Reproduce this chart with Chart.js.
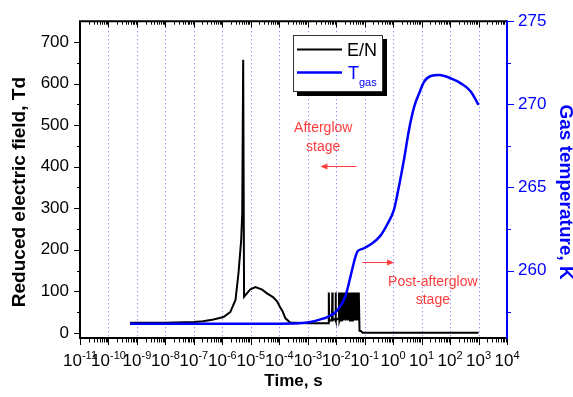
<!DOCTYPE html>
<html>
<head>
<meta charset="utf-8">
<script src="https://cdn.jsdelivr.net/npm/chart.js@4.4.0/dist/chart.umd.min.js"></script>
<style>
  html, body { margin: 0; padding: 0; background: #fff; }
  #wrap { width: 573px; height: 397px; }
</style>
</head>
<body>
<div id="wrap"><canvas id="chart"></canvas></div>
<script>
// E/N, Td
const enTime = [
  5.7e-10, 1e-8, 1e-7, 2.1e-7, 4.9e-7, 1.1e-6, 1.9e-6, 2.9e-6, 3.7e-6, 4.6e-6, 5.0e-6, 5.4e-6, 5.8e-6,
  9.7e-6, 1.45e-5, 2.5e-5, 3.7e-5, 6e-5, 8.5e-5, 1.05e-4, 1.3e-4, 1.65e-4, 2.4e-4, 1e-3, 5.3e-3,
  5.5e-3, 5.7e-3, 7.1e-3, 7.3e-3, 7.5e-3, 9.3e-3, 9.5e-3, 9.8e-3, 1.22e-2, 1.25e-2, 1.3e-2, 1.4e-2,
  1.45e-2, 1.52e-2, 1.58e-2, 1.65e-2, 1.72e-2, 1.8e-2, 1.88e-2, 1.96e-2, 2.05e-2, 2.14e-2, 2.24e-2, 2.34e-2,
  2.45e-2, 2.56e-2, 2.68e-2, 2.8e-2, 2.93e-2, 3.06e-2, 3.2e-2, 3.35e-2, 3.5e-2, 3.66e-2, 3.83e-2, 4.0e-2,
  4.2e-2, 4.4e-2, 4.6e-2, 4.8e-2, 5.0e-2, 5.25e-2, 5.5e-2, 5.75e-2, 6.0e-2, 6.15e-2, 6.3e-2,
  6.6e-2, 7.5e-2, 8.5e-2, 1e3
];
const enValues = [
  24, 24, 26, 28, 32, 38, 50, 79, 144, 224, 289, 657, 87,
  105, 110, 104, 95, 86, 75, 63, 52, 35, 25, 23, 23,
  97, 28, 32, 97, 30, 34, 97, 30, 35, 97, 30, 38,
  97, 30, 97, 32, 97, 30, 97, 33, 97, 30, 97, 32,
  97, 30, 97, 33, 97, 30, 97, 32, 97, 30, 97, 33,
  97, 30, 97, 32, 97, 30, 97, 32, 97, 30, 97,
  5, 4, 0.5, 0.5
];

// Gas temperature, K
const tTime = [
  5.7e-10, 1e-4, 5e-4, 1.26e-3, 2.8e-3, 4.9e-3, 1.1e-2, 2.1e-2, 3.2e-2, 4.2e-2, 4.8e-2, 5.6e-2,
  8.3e-2, 0.16, 0.36, 0.63, 1.07, 1.6, 2.4, 3.6, 5.5, 8.2, 12.3, 21, 42, 107, 240, 540, 1000
];
const tValues = [
  256.8, 256.8, 256.82, 256.9, 257.06, 257.2, 257.6, 258.45, 259.66, 260.5, 260.85, 261.15,
  261.3, 261.56, 262.1, 262.8, 263.66, 265.06, 266.66, 268.46, 269.86, 270.66, 271.36, 271.7, 271.76,
  271.56, 271.26, 270.76, 269.96
];

const decades = [1e-11, 1e-10, 1e-9, 1e-8, 1e-7, 1e-6, 1e-5, 1e-4, 1e-3, 1e-2, 1e-1, 1e0, 1e1, 1e2, 1e3, 1e4];
const decadeExp = ["-11", "-10", "-9", "-8", "-7", "-6", "-5", "-4", "-3", "-2", "-1", "0", "1", "2", "3", "4"];
const leftTicks = [0, 100, 200, 300, 400, 500, 600, 700];
const leftMinor = [50, 150, 250, 350, 450, 550, 650];
const rightTicks = [260, 265, 270, 275];
const rightMinor = [257.5, 262.5, 267.5, 272.5];
const xMinor = decades.slice(0, -1).flatMap(d => [2, 3, 4, 5, 6, 7, 8, 9].map(m => m * d));

const FONT = 'Arial, "Liberation Sans", sans-serif';
const RED = '#ff3b3b';
const BLUE = '#0000ff';

function arrow(ctx, x1, x2, y) {
  const dir = x2 > x1 ? 1 : -1;
  ctx.beginPath();
  ctx.moveTo(x1, y);
  ctx.lineTo(x2 - dir * 5, y);
  ctx.stroke();
  ctx.beginPath();
  ctx.moveTo(x2, y);
  ctx.lineTo(x2 - dir * 7, y - 3);
  ctx.lineTo(x2 - dir * 7, y + 3);
  ctx.closePath();
  ctx.fill();
}

function vTitle(ctx, text, cx, cy, angle, color) {
  ctx.save();
  ctx.translate(cx, cy);
  ctx.rotate(angle);
  ctx.font = 'bold 19px ' + FONT;
  ctx.fillStyle = color;
  ctx.textAlign = 'center';
  ctx.textBaseline = 'middle';
  ctx.fillText(text, 0, 0);
  ctx.restore();
}

const frame = {
  id: 'frame',
  beforeDatasetsDraw(chart) {
    const { ctx, chartArea: a, scales: { x } } = chart;
    ctx.save();
    ctx.strokeStyle = '#6a6aff';
    ctx.lineWidth = 1;
    ctx.setLineDash([1, 3]);
    decades.slice(1, -1).forEach(v => {
      const px = Math.round(x.getPixelForValue(v)) + 0.5;
      ctx.beginPath();
      ctx.moveTo(px, a.top + 2);
      ctx.lineTo(px, a.bottom);
      ctx.stroke();
    });
    ctx.restore();
  },
  afterDatasetsDraw(chart) {
    const { ctx, chartArea: a, scales: { x, y, y2 } } = chart;
    ctx.save();

    // x ticks, top (inward) and bottom (outward)
    ctx.strokeStyle = '#000';
    ctx.lineWidth = 1;
    const tick = (v, len) => {
      const px = Math.round(x.getPixelForValue(v)) + 0.5;
      ctx.beginPath();
      ctx.moveTo(px, a.top); ctx.lineTo(px, a.top + len);
      ctx.moveTo(px, a.bottom + 1); ctx.lineTo(px, a.bottom + 2 + len);
      ctx.stroke();
    };
    decades.forEach(v => tick(v, 6));
    xMinor.forEach(v => tick(v, 3.5));

    // left ticks
    leftTicks.forEach(v => {
      const py = Math.round(y.getPixelForValue(v)) + 0.5;
      ctx.beginPath(); ctx.moveTo(a.left - 6, py); ctx.lineTo(a.left, py); ctx.stroke();
    });
    leftMinor.forEach(v => {
      const py = Math.round(y.getPixelForValue(v)) + 0.5;
      ctx.beginPath(); ctx.moveTo(a.left - 3, py); ctx.lineTo(a.left, py); ctx.stroke();
    });

    // frame lines
    ctx.lineWidth = 2;
    ctx.beginPath();
    ctx.moveTo(a.left - 1, a.top); ctx.lineTo(a.right, a.top);
    ctx.moveTo(a.left - 1, a.bottom + 1); ctx.lineTo(a.right, a.bottom + 1);
    ctx.moveTo(a.left, a.top - 1); ctx.lineTo(a.left, a.bottom + 2);
    ctx.stroke();

    // right axis in blue
    ctx.strokeStyle = BLUE;
    ctx.beginPath();
    ctx.moveTo(a.right, a.top - 1); ctx.lineTo(a.right, a.bottom + 2);
    ctx.stroke();
    ctx.lineWidth = 1;
    rightTicks.forEach(v => {
      const py = Math.round(y2.getPixelForValue(v)) + 0.5;
      ctx.beginPath(); ctx.moveTo(a.right, py); ctx.lineTo(a.right + 7, py); ctx.stroke();
    });
    rightMinor.forEach(v => {
      const py = Math.round(y2.getPixelForValue(v)) + 0.5;
      ctx.beginPath(); ctx.moveTo(a.right, py); ctx.lineTo(a.right + 4, py); ctx.stroke();
    });

    // x tick labels 10^n
    ctx.fillStyle = '#000';
    ctx.textBaseline = 'alphabetic';
    ctx.textAlign = 'left';
    decades.forEach((v, i) => {
      const px = x.getPixelForValue(v);
      ctx.font = '17px ' + FONT;
      const wBase = ctx.measureText('10').width;
      ctx.font = '11px ' + FONT;
      const wExp = ctx.measureText(decadeExp[i]).width;
      const start = px - (wBase + wExp) / 2;
      ctx.font = '17px ' + FONT;
      ctx.fillText('10', start, a.bottom + 28.5);
      ctx.font = '11px ' + FONT;
      ctx.fillText(decadeExp[i], start + wBase, a.bottom + 22);
    });

    // axis titles
    const midY = (a.top + a.bottom) / 2 + 13;
    vTitle(ctx, 'Reduced electric field, Td', 20, midY, -Math.PI / 2, '#000');
    vTitle(ctx, 'Gas temperature, K', 565, midY, Math.PI / 2, BLUE);

    // legend
    const lx = 293, ly = 35, lw = 90, lh = 57;
    ctx.fillStyle = '#000';
    ctx.fillRect(lx + 4, ly + 4, lw, lh);
    ctx.fillStyle = '#fff';
    ctx.fillRect(lx, ly, lw, lh);
    ctx.strokeStyle = '#333';
    ctx.lineWidth = 1;
    ctx.strokeRect(lx + 0.5, ly + 0.5, lw - 1, lh - 1);
    ctx.lineWidth = 2;
    ctx.strokeStyle = '#000';
    ctx.beginPath(); ctx.moveTo(lx + 4, ly + 14.5); ctx.lineTo(lx + 49, ly + 14.5); ctx.stroke();
    ctx.lineWidth = 2.5;
    ctx.strokeStyle = BLUE;
    ctx.beginPath(); ctx.moveTo(lx + 4, ly + 37.5); ctx.lineTo(lx + 49, ly + 37.5); ctx.stroke();
    ctx.font = '18px ' + FONT;
    ctx.fillStyle = '#000';
    ctx.fillText('E/N', lx + 54, ly + 21);
    ctx.fillStyle = BLUE;
    ctx.fillText('T', lx + 55, ly + 44);
    ctx.font = '11px ' + FONT;
    ctx.fillText('gas', lx + 66, ly + 51);

    // stage notes
    ctx.fillStyle = RED;
    ctx.strokeStyle = RED;
    ctx.lineWidth = 1;
    ctx.font = '14px ' + FONT;
    ctx.textAlign = 'center';
    ctx.textBaseline = 'middle';
    const ax = x.getPixelForValue(3.5e-3);
    ctx.fillText('Afterglow', ax, y.getPixelForValue(493));
    ctx.fillText('stage', ax, y.getPixelForValue(447));
    arrow(ctx, x.getPixelForValue(0.052), x.getPixelForValue(2.8e-3), Math.round(y.getPixelForValue(402)) + 0.5);
    const px2 = x.getPixelForValue(24.8);
    ctx.fillText('Post-afterglow', px2, y.getPixelForValue(123));
    ctx.fillText('stage', px2, y.getPixelForValue(79));
    arrow(ctx, x.getPixelForValue(0.083), x.getPixelForValue(1.08), Math.round(y.getPixelForValue(170)) + 0.5);

    ctx.restore();
  }
};

new Chart(document.getElementById('chart'), {
  type: 'line',
  data: {
    datasets: [
      {
        label: 'T gas',
        data: tTime.map((t, i) => ({ x: t, y: tValues[i] })),
        yAxisID: 'y2',
        borderColor: BLUE,
        borderWidth: 2.5,
        pointRadius: 0,
        cubicInterpolationMode: 'monotone',
        order: 0
      },
      {
        label: 'E/N',
        data: enTime.map((t, i) => ({ x: t, y: enValues[i] })),
        yAxisID: 'y',
        borderColor: '#000',
        borderWidth: 2,
        pointRadius: 0,
        tension: 0,
        order: 1
      }
    ]
  },
  options: {
    responsive: true,
    maintainAspectRatio: false,
    animation: false,
    layout: { padding: { top: 21, left: 0, right: 0, bottom: 0 } },
    plugins: { legend: { display: false }, tooltip: { enabled: false } },
    scales: {
      x: {
        type: 'logarithmic',
        min: 1e-11,
        max: 1e4,
        afterBuildTicks: (s) => { s.ticks = decades.map(v => ({ value: v })); },
        afterFit: (s) => { s.height = 60; },
        ticks: { display: false },
        grid: { display: false },
        border: { display: false },
        title: {
          display: true,
          text: 'Time, s',
          color: '#000',
          font: { family: FONT, size: 17, weight: 'bold' },
          padding: { top: 0, bottom: 5 }
        }
      },
      y: {
        position: 'left',
        min: -10,
        max: 750,
        afterBuildTicks: (s) => { s.ticks = leftTicks.map(v => ({ value: v })); },
        afterFit: (s) => { s.width = 80; },
        ticks: { color: '#000', padding: 11, font: { family: FONT, size: 17 } },
        grid: { display: false, drawTicks: false },
        border: { display: false },
        title: { display: false }
      },
      y2: {
        position: 'right',
        min: 256,
        max: 275,
        afterBuildTicks: (s) => { s.ticks = rightTicks.map(v => ({ value: v })); },
        afterFit: (s) => { s.width = 66; },
        ticks: { color: BLUE, padding: 11, font: { family: FONT, size: 17 } },
        grid: { display: false, drawTicks: false },
        border: { display: false },
        title: { display: false }
      }
    }
  },
  plugins: [frame]
});
</script>
</body>
</html>
